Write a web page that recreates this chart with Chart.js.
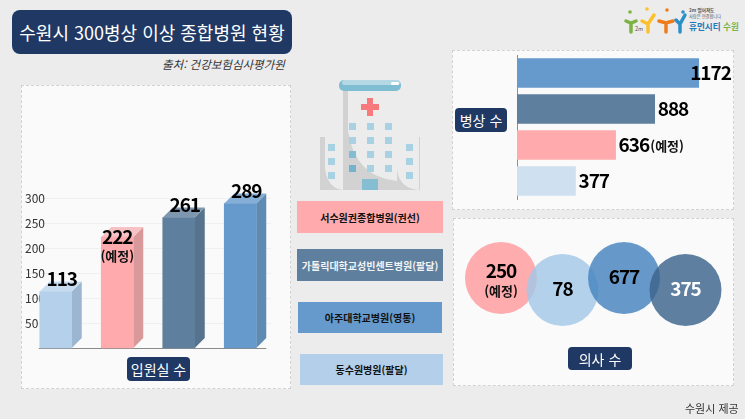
<!DOCTYPE html>
<html lang="ko">
<head>
<meta charset="utf-8">
<title>수원시 300병상 이상 종합병원 현황</title>
<script src="https://cdn.jsdelivr.net/npm/chart.js@4"></script>
<style>
    html, body { margin: 0; padding: 0; }
    body {
        position: relative; width: 745px; height: 419px; overflow: hidden;
        background: #ececec; font-family: "Noto Sans CJK KR", "Noto Sans", sans-serif;
    }
    .abs, canvas { position: absolute; }
    .panel { position: absolute; box-sizing: border-box; background: #fafafa; border: 1px dashed #d2d2d2; }
    .pill {
        position: absolute; display: flex; align-items: center; justify-content: center;
        background: #1f3864; color: #fff; border-radius: 4px; white-space: nowrap;
    }
    .tag {
        position: absolute; display: flex; align-items: center; justify-content: center;
        font-size: 10px; font-weight: 700; white-space: nowrap;
    }
</style>
</head>
<body>
<div class="pill" style="left:12px;top:10px;width:280px;height:44px;border-radius:8px;font-size:18px;">수원시 300병상 이상 종합병원 현황</div>
<div class="abs" style="left:162px;top:56px;font-size:11.5px;font-style:italic;color:#333;white-space:nowrap;">출처: 건강보험심사평가원</div>

<div class="panel" style="left:21px;top:85px;width:270px;height:304px;"></div>
<div class="panel" style="left:452px;top:50px;width:282px;height:160px;"></div>
<div class="panel" style="left:453px;top:218px;width:281px;height:168px;"></div>

<!-- 병원 아이콘 -->
<svg class="abs" style="left:310px;top:70px;" width="120" height="125" viewBox="310 70 120 125">
    <rect x="320" y="137" width="100" height="53" fill="#d2d2d2"/>
    <path d="M325 137h18v53q-16-2-18-22z" fill="#ececec"/>
    <path d="M397 137h22v53q-21-2-22-22z" fill="#ececec"/>
    <rect x="343" y="88" width="54" height="102" fill="#d2d2d2"/>
    <path d="M348 91h49v90q-42-4-49-50z" fill="#ececec"/>
    <rect x="339" y="80" width="62" height="11" rx="5" fill="#7fbdd2"/>
    <rect x="342" y="80" width="58" height="5" rx="2.5" fill="#b5d8e5"/>
    <rect x="391" y="82" width="8" height="3" rx="1.5" fill="#fff"/>
    <path d="M367 98h6v6h6v6h-6v6h-6v-6h-6v-6h6z" fill="#f87a7c"/>
    <g fill="#a8d1e4">
        <rect x="349" y="123" width="7" height="7"/><rect x="367" y="123" width="7" height="7"/><rect x="385" y="123" width="7" height="7"/>
        <rect x="349" y="137" width="7" height="7"/><rect x="367" y="137" width="7" height="7"/><rect x="385" y="137" width="7" height="7"/>
        <rect x="349" y="151" width="7" height="7" fill="#84bcd3"/><rect x="367" y="151" width="7" height="7"/><rect x="385" y="151" width="7" height="7"/>
        <rect x="349" y="165" width="7" height="7" fill="#74b3cb"/><rect x="367" y="165" width="7" height="7"/><rect x="385" y="165" width="7" height="7"/>
        <rect x="328" y="144" width="7" height="7"/><rect x="328" y="158" width="7" height="7"/><rect x="328" y="172" width="7" height="7"/>
        <rect x="406" y="144" width="7" height="7"/><rect x="406" y="158" width="7" height="7"/><rect x="406" y="172" width="7" height="7"/>
    </g>
    <rect x="362" y="179" width="16" height="11" fill="#85bdd2"/>
</svg>

<!-- 로고 -->
<svg class="abs" style="left:620px;top:0;" width="125" height="45" viewBox="620 0 125 45">
    <g fill="none" stroke-width="3.5" stroke-linecap="round">
        <path d="M626 21l5 2 5-2M631 23v9" stroke="#7cb342"/>
        <path d="M642 21l6 3 6-9M648 24v8" stroke="#fbc02d"/>
        <path d="M659 21l7 2 7-2M666 23v9" stroke="#ef7c1a"/>
        <path d="M676 20l4 4 5-9M680 24v8" stroke="#2b8fc9"/>
    </g>
    <circle cx="630" cy="12" r="1.8" fill="#7cb342"/>
    <circle cx="647" cy="9" r="1.8" fill="#fbc02d"/>
    <circle cx="667" cy="10" r="1.8" fill="#ef7c1a"/>
    <circle cx="683" cy="12" r="1.8" fill="#2b8fc9"/>
    <text x="635" y="31" font-size="5.5" fill="#555">2m</text>
    <text x="689" y="12" font-size="4.6" font-weight="700" fill="#555">2m 떨어져도</text>
    <text x="689" y="18" font-size="4.2" fill="#555">사람은 연결합니다</text>
    <text x="689" y="30" font-size="8.6" font-weight="700" fill="#2479b8">휴먼시티</text>
    <text x="723" y="30" font-size="8.6" font-weight="700" fill="#7cb342">수원</text>
</svg>

<div class="tag" style="left:297px;top:201px;width:146px;height:32px;background:#ffabad;color:#111;">서수원권종합병원(권선)</div>
<div class="tag" style="left:297px;top:249px;width:146px;height:32px;background:#5f7f9e;color:#f4f4f4;">가톨릭대학교성빈센트병원(팔달)</div>
<div class="tag" style="left:298px;top:302px;width:144px;height:31px;background:#6699cc;color:#111;">아주대학교병원(영통)</div>
<div class="tag" style="left:300px;top:354px;width:143px;height:31px;background:#b4cfe9;color:#111;">동수원병원(팔달)</div>

<canvas id="barER" width="268" height="303" style="left:22px;top:85px;"></canvas>
<canvas id="barBeds" width="279" height="157" style="left:453px;top:51px;"></canvas>
<canvas id="bubbleDoctors" width="279" height="166" style="left:454px;top:219px;"></canvas>

<div class="pill" style="left:127px;top:357px;width:63px;height:24px;font-size:14px;">입원실 수</div>
<div class="pill" style="left:455px;top:108px;width:52px;height:24px;font-size:14px;">병상 수</div>
<div class="pill" style="left:568px;top:347px;width:64px;height:23px;font-size:14px;">의사 수</div>

<div class="abs" style="left:685px;top:400px;font-size:11px;color:#333;white-space:nowrap;">수원시 제공</div>

<script>
// ==========================================
// DATA
// ==========================================

const erHospitals = ['동수원병원', '서수원권종합병원', '가톨릭대학교성빈센트병원', '아주대학교병원'];
const erValues = [113, 222, 261, 289];
const erNotes = ['', '(예정)', '', ''];
const erTicks = [50, 100, 150, 200, 250, 300];

const bedHospitals = ['아주대학교병원', '가톨릭대학교성빈센트병원', '서수원권종합병원', '동수원병원'];
const bedValues = [1172, 888, 636, 377];
const bedNotes = ['', '', '(예정)', ''];

const doctorHospitals = ['서수원권종합병원', '동수원병원', '아주대학교병원', '가톨릭대학교성빈센트병원'];
const doctorValues = [250, 78, 677, 375];
const doctorNotes = ['(예정)', '', '', ''];

// ==========================================
// COLOURS
// ==========================================

const hospitalColors = {
    '동수원병원': { front: '#b5d0ea', side: '#9cb5d0', top: '#c8dcf0', flat: '#cfe0f1', circle: 'rgba(165,200,232,0.82)' },
    '서수원권종합병원': { front: '#ffabad', side: '#d9999b', top: '#f7c2c3', flat: '#ffabad', circle: 'rgba(255,160,163,0.88)' },
    '가톨릭대학교성빈센트병원': { front: '#5f7f9e', side: '#57728c', top: '#7f97ae', flat: '#5f7f9e', circle: 'rgba(60,100,140,0.82)' },
    '아주대학교병원': { front: '#6699cc', side: '#5f8ab2', top: '#85aed6', flat: '#6699cc', circle: 'rgba(70,132,192,0.82)' }
};

Chart.defaults.font.family = "'Noto Sans CJK KR', 'Noto Sans', sans-serif";
Chart.defaults.animation = false;
Chart.defaults.responsive = false;
Chart.defaults.plugins.legend.display = false;
Chart.defaults.plugins.tooltip.enabled = false;

function boldFont(size) {
    return `700 ${size}px 'Noto Sans CJK KR', 'Noto Sans', sans-serif`;
}

function drawNumber(ctx, text, x, y, align, color) {
    ctx.save();
    ctx.font = boldFont(19);
    ctx.letterSpacing = '-1px';
    ctx.textAlign = align;
    ctx.textBaseline = 'middle';
    ctx.fillStyle = color;
    ctx.fillText(text, x, y);
    ctx.restore();
}

function drawNote(ctx, text, x, y, align) {
    ctx.save();
    ctx.font = boldFont(13);
    ctx.textAlign = align;
    ctx.textBaseline = 'middle';
    ctx.fillStyle = '#111';
    ctx.fillText(text, x, y);
    ctx.restore();
}

// ==========================================
// 입원실 수 - 3D 막대
// ==========================================

const DEPTH = 10;

const bar3dPlugin = {
    id: 'bar3d',
    beforeDatasetsDraw(chart) {
        const ctx = chart.ctx;
        const bars = chart.getDatasetMeta(0).data;
        bars.forEach(function(bar, i) {
            const c = hospitalColors[erHospitals[i]];
            const left = bar.x - bar.width / 2;
            const right = bar.x + bar.width / 2;
            ctx.fillStyle = c.side;
            ctx.beginPath();
            ctx.moveTo(right, bar.y);
            ctx.lineTo(right + DEPTH, bar.y - DEPTH);
            ctx.lineTo(right + DEPTH, bar.base - DEPTH);
            ctx.lineTo(right, bar.base);
            ctx.fill();
            ctx.fillStyle = c.top;
            ctx.beginPath();
            ctx.moveTo(left, bar.y);
            ctx.lineTo(left + DEPTH, bar.y - DEPTH);
            ctx.lineTo(right + DEPTH, bar.y - DEPTH);
            ctx.lineTo(right, bar.y);
            ctx.fill();
        });
        // 기준선
        const first = bars[0];
        const last = bars[bars.length - 1];
        ctx.strokeStyle = '#8a8a8a';
        ctx.lineWidth = 1;
        ctx.beginPath();
        ctx.moveTo(first.x - first.width / 2 - 1, first.base + 0.5);
        ctx.lineTo(last.x + last.width / 2 + DEPTH, first.base + 0.5);
        ctx.stroke();
    },
    afterDatasetsDraw(chart) {
        const ctx = chart.ctx;
        chart.getDatasetMeta(0).data.forEach(function(bar, i) {
            if (erNotes[i]) {
                drawNumber(ctx, String(erValues[i]), bar.x, bar.y, 'center', '#000');
                drawNote(ctx, erNotes[i], bar.x, bar.y + 19, 'center');
            } else {
                drawNumber(ctx, String(erValues[i]), bar.x + 6, bar.y - 13, 'center', '#000');
            }
        });
    }
};

new Chart(document.getElementById('barER'), {
    type: 'bar',
    data: {
        labels: erHospitals,
        datasets: [{
            data: erValues,
            backgroundColor: erHospitals.map(h => hospitalColors[h].front),
            barThickness: 32,
            clip: false
        }]
    },
    options: {
        layout: { padding: { left: 3, right: 19, top: 103, bottom: 40 } },
        scales: {
            x: { display: false },
            y: {
                min: 0,
                max: 320,
                afterFit(scale) { scale.width = 0; },
                afterBuildTicks(scale) { scale.ticks = erTicks.map(v => ({ value: v })); },
                border: { display: false },
                grid: { color: '#f0f0f0', drawTicks: false },
                ticks: { mirror: true, padding: 0, color: '#333', font: { size: 12 } }
            }
        }
    },
    plugins: [bar3dPlugin]
});

// ==========================================
// 병상 수 - 가로 막대
// ==========================================

const RIGHT_LIMIT = 278;

const bedLabelPlugin = {
    id: 'bedLabels',
    afterDatasetsDraw(chart) {
        const ctx = chart.ctx;
        chart.getDatasetMeta(0).data.forEach(function(bar, i) {
            const text = String(bedValues[i]);
            ctx.save();
            ctx.font = boldFont(19);
            ctx.letterSpacing = '-1px';
            const w = ctx.measureText(text).width;
            ctx.restore();
            const x = Math.min(bar.x + 3, RIGHT_LIMIT - w);
            drawNumber(ctx, text, x, bar.y, 'left', '#000');
            if (bedNotes[i]) {
                drawNote(ctx, bedNotes[i], x + w + 1, bar.y + 1, 'left');
            }
        });
    }
};

new Chart(document.getElementById('barBeds'), {
    type: 'bar',
    data: {
        labels: bedHospitals,
        datasets: [{
            data: bedValues,
            backgroundColor: bedHospitals.map(h => hospitalColors[h].flat),
            barThickness: 29
        }]
    },
    options: {
        indexAxis: 'y',
        layout: { padding: { left: 0, right: 15, top: 4, bottom: 9 } },
        scales: {
            x: { display: false, min: 0, max: 1290 },
            y: {
                afterFit(scale) { scale.width = 64; },
                grid: { display: false, drawTicks: false },
                border: { color: '#909090', dash: [2, 2] },
                ticks: { display: false }
            }
        }
    },
    plugins: [bedLabelPlugin]
});

// ==========================================
// 의사 수 - 원
// ==========================================

const doctorLabelPlugin = {
    id: 'doctorLabels',
    afterDatasetsDraw(chart) {
        const ctx = chart.ctx;
        chart.getDatasetMeta(0).data.forEach(function(pt, i) {
            const color = i === 3 ? '#fff' : '#000';
            if (doctorNotes[i]) {
                drawNumber(ctx, String(doctorValues[i]), pt.x, pt.y - 7, 'center', color);
                drawNote(ctx, doctorNotes[i], pt.x, pt.y + 13, 'center');
            } else {
                drawNumber(ctx, String(doctorValues[i]), pt.x, pt.y - 1, 'center', color);
            }
        });
    }
};

new Chart(document.getElementById('bubbleDoctors'), {
    type: 'bubble',
    data: {
        datasets: [{
            // 원 크기는 값과 무관하게 모두 같다
            data: doctorValues.map((v, i) => ({ x: i, y: i % 2 === 0 ? 1 : 0, r: 36 })),
            backgroundColor: doctorHospitals.map(h => hospitalColors[h].circle),
            borderWidth: 0,
            clip: false
        }]
    },
    options: {
        layout: { padding: { left: 47, right: 47.5, top: 59, bottom: 95 } },
        scales: {
            x: { display: false, min: 0, max: 3 },
            y: { display: false, min: 0, max: 1 }
        }
    },
    plugins: [doctorLabelPlugin]
});
</script>
</body>
</html>
